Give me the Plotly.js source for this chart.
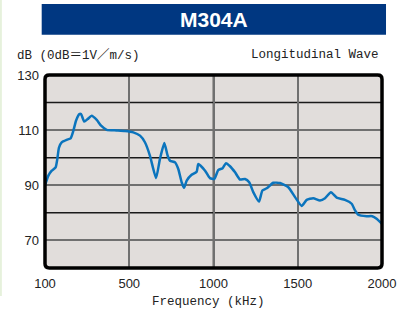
<!DOCTYPE html>
<html><head><meta charset="utf-8">
<script src="https://cdn.plot.ly/plotly-3.0.1.min.js"></script>
<style>html,body{margin:0;padding:0;background:#fff}#c{width:400px;height:311px}</style>
</head><body><div id="c"></div>
<script>
var chartTitle = "M304A";
var yLabel = "dB (0dB＝1V／m/s)";
var waveLabel = "Longitudinal Wave";
var xLabel = "Frequency (kHz)";
var xTickVals = [0, 500, 1000, 1500, 2000];
var xTickText = ["100", "500", "1000", "1500", "2000"];
var yTickVals = [70, 90, 110, 130];
var yDarkGrid = [80, 100, 120];
var xDarkGrid = [1000];
var freq = [0,20,40,63,73,83,99,129,152,168,184,204,214,233,253,277,307,333,366,425,475,524,564,593,623,659,682,708,728,742,772,791,811,825,841,870,900,910,950,979,1005,1028,1054,1074,1098,1128,1157,1187,1212,1236,1270,1290,1316,1355,1395,1444,1484,1523,1553,1592,1632,1662,1697,1731,1780,1820,1840,1859,1909,1942,1968,2000];
var db = [90,93.5,95.3,96.5,99.5,103.7,105.6,106.5,107,109.7,113.4,115.8,115.8,113.1,114,115.2,113.7,111.6,110.1,109.9,109.7,109.2,108,105.6,100.7,92.6,99.5,105.3,100.7,98.9,98.3,95.9,91.1,89.1,91.7,93.8,94.9,97.7,95.3,92.6,92.3,95.5,96.2,98,96.9,94.7,92.1,92.3,91.1,87.5,84.1,88.1,88.9,90.9,90.8,89.3,85.7,82.5,84.7,85.3,84.5,85.3,87.5,85.5,84.7,83.3,80.9,79.3,78.8,78.8,77.9,76];

var mono = "'Liberation Mono', 'DejaVu Sans Mono', 'Noto Sans CJK JP', monospace";
var sans = "'Liberation Sans', Arial, sans-serif";

var trace = {
  x: freq, y: db, type: "scatter", mode: "lines",
  line: {color: "#0b74bd", width: 2.5, shape: "spline", smoothing: 0.5},
  hoverinfo: "skip"
};

var rx = 0.013, ry = 0.022;
var framePath = "M " + rx + " 0 L " + (1 - rx) + " 0 Q 1 0 1 " + ry +
  " L 1 " + (1 - ry) + " Q 1 1 " + (1 - rx) + " 1 L " + rx + " 1 Q 0 1 0 " + (1 - ry) +
  " L 0 " + ry + " Q 0 0 " + rx + " 0 Z";

var shapes = [];
yDarkGrid.forEach(function (v) {
  shapes.push({type: "line", xref: "paper", yref: "y", x0: 0, x1: 1, y0: v, y1: v, layer: "below",
    line: {color: "#1a1a1a", width: 1.5}});
});
xDarkGrid.forEach(function (v) {
  shapes.push({type: "line", xref: "x", yref: "paper", x0: v, x1: v, y0: 0, y1: 1, layer: "below",
    line: {color: "#1a1a1a", width: 1.6}});
});
shapes.push(
  {type: "path", xref: "paper", yref: "paper", path: framePath,
   line: {color: "#000", width: 3.5}},
  {type: "rect", xref: "paper", yref: "paper", x0: -0.0098, x1: 1.0119, y0: 1.2088, y1: 1.3679,
   fillcolor: "#003781", line: {width: 0}},
  {type: "rect", xref: "paper", yref: "paper", x0: -0.1335, x1: -0.128, y0: -0.145, y1: 1.39,
   fillcolor: "#e6f1dc", line: {width: 0}}
);

var layout = {
  width: 400, height: 311,
  margin: {l: 45, r: 18, t: 75, b: 43},
  paper_bgcolor: "#ffffff",
  plot_bgcolor: "#e1dddb",
  showlegend: false,
  xaxis: {
    range: [0, 2000], tickvals: xTickVals, ticktext: xTickText,
    showgrid: true, gridcolor: "#707070", gridwidth: 2,
    zeroline: false, showline: false, ticks: "",
    ticklabelstandoff: 6,
    tickfont: {family: sans, size: 13, color: "#222"}
  },
  yaxis: {
    range: [60, 130], tickvals: yTickVals,
    showgrid: true, gridcolor: "#707070", gridwidth: 2,
    zeroline: false, showline: false, ticks: "",
    ticklabelstandoff: 5,
    tickfont: {family: sans, size: 13, color: "#222"}
  },
  shapes: shapes,
  annotations: [
    {text: "<b>" + chartTitle + "</b>", xref: "paper", yref: "paper", x: 0.5, y: 1.288,
     xanchor: "center", yanchor: "middle", showarrow: false,
     font: {family: sans, size: 21, color: "#ffffff"}},
    {text: yLabel, xref: "paper", yref: "paper", x: -0.089, y: 1.1036,
     xanchor: "left", yanchor: "middle", showarrow: false,
     font: {family: mono, size: 12.5, color: "#222"}},
    {text: waveLabel, xref: "paper", yref: "paper", x: 0.997, y: 1.1036,
     xanchor: "right", yanchor: "middle", showarrow: false,
     font: {family: mono, size: 12.5, color: "#222"}},
    {text: xLabel, xref: "paper", yref: "paper", x: 0.485, y: -0.175,
     xanchor: "center", yanchor: "middle", showarrow: false,
     font: {family: mono, size: 12.5, color: "#222"}}
  ]
};

Plotly.newPlot("c", [trace], layout, {staticPlot: true, displayModeBar: false});
</script></body></html>
